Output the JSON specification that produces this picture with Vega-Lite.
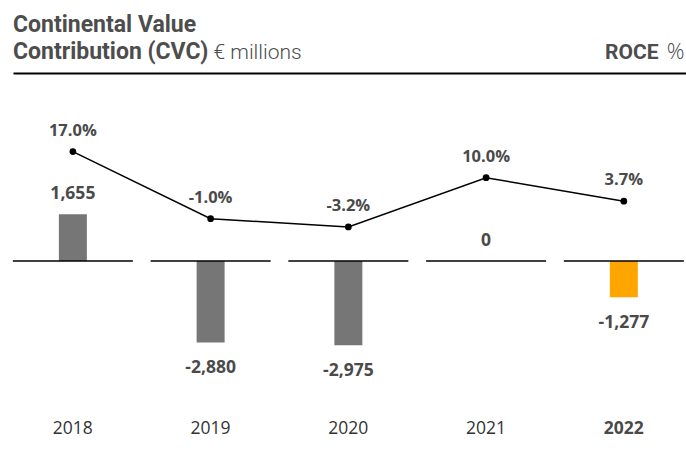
{
  "$schema": "https://vega.github.io/schema/vega-lite/v6.json",
  "width": 673,
  "height": 327,
  "autosize": {"type": "none"},
  "padding": {"left": 13, "right": 0, "top": 73, "bottom": 61},
  "background": "white",
  "config": {
    "view": {"stroke": null},
    "locale": {"number": {"decimal": ".", "thousands": ",", "grouping": [3], "currency": ["", ""], "minus": "-", "percent": "%"}},
    "text": {"font": "Open Sans"}
  },
  "title": {
    "text": ["Continental Value", "Contribution (CVC)"],
    "anchor": "start",
    "frame": "group",
    "font": "Roboto",
    "fontSize": 23,
    "fontWeight": "bold",
    "color": "#4d4d4d",
    "lineHeight": 27,
    "baseline": "alphabetic",
    "offset": -42
  },
  "datasets": {
    "cvc": [
      {"year": "2018", "cvc": 1655, "roce": 0.17},
      {"year": "2019", "cvc": -2880, "roce": -0.010},
      {"year": "2020", "cvc": -2975, "roce": -0.032},
      {"year": "2021", "cvc": 0, "roce": 0.100},
      {"year": "2022", "cvc": -1277, "roce": 0.037}
    ]
  },
  "data": {"name": "cvc"},
  "resolve": {"scale": {"y": "independent"}, "axis": {"x": "independent", "y": "independent"}},
  "layer": [
    {
      "encoding": {
        "x": {
          "field": "year",
          "type": "nominal",
          "sort": null,
          "scale": {"type": "band", "paddingInner": 0.1307, "paddingOuter": 0.0083, "align": 0},
          "axis": {
            "orient": "bottom",
            "title": null,
            "domain": false,
            "ticks": false,
            "grid": false,
            "labelAngle": 0,
            "labelPadding": 19.5,
            "labelFont": "Open Sans",
            "labelFontSize": 17.5,
            "labelColor": {"condition": {"test": "datum.value == '2022'", "value": "#4a4a4a"}, "value": "#333333"},
            "labelFontWeight": {"condition": {"test": "datum.value == '2022'", "value": "bold"}, "value": "normal"}
          }
        },
        "y": {
          "field": "cvc",
          "type": "quantitative",
          "scale": {"domain": [-4912, 6643], "nice": false, "zero": false},
          "axis": {
            "orient": "left",
            "title": "€ millions",
            "titleAngle": 0,
            "titleAlign": "left",
            "titleBaseline": "alphabetic",
            "titleX": 200,
            "titleY": -15,
            "titleFont": "Roboto",
            "titleFontSize": 21,
            "titleFontWeight": 300,
            "titleColor": "#4d4d4d",
            "domain": false,
            "ticks": false,
            "labels": false,
            "grid": false
          }
        }
      },
      "layer": [
        {
          "mark": {"type": "bar", "width": 28},
          "encoding": {
            "color": {"condition": {"test": "datum.year == '2022'", "value": "#FFA500"}, "value": "#767676"}
          }
        },
        {
          "mark": {"type": "tick", "size": 120, "thickness": 1.5, "color": "black", "opacity": 1},
          "encoding": {
            "y": {"datum": 0, "type": "quantitative"}
          }
        },
        {
          "transform": [{"filter": "datum.cvc >= 0"}],
          "mark": {"type": "text", "baseline": "alphabetic", "dy": -15, "fontSize": 17.5, "fontWeight": "bold", "color": "#4a4a4a"},
          "encoding": {
            "text": {"field": "cvc", "type": "quantitative", "format": ",.0f"}
          }
        },
        {
          "transform": [{"filter": "datum.cvc < 0"}],
          "mark": {"type": "text", "baseline": "top", "dy": 16.5, "fontSize": 17.5, "fontWeight": "bold", "color": "#4a4a4a"},
          "encoding": {
            "text": {"field": "cvc", "type": "quantitative", "format": ",.0f"}
          }
        }
      ]
    },
    {
      "encoding": {
        "x": {
          "field": "year",
          "type": "nominal",
          "sort": null,
          "axis": {
            "orient": "top",
            "labels": false,
            "ticks": false,
            "grid": false,
            "domain": true,
            "domainColor": "black",
            "domainWidth": 2.2,
            "title": "ROCE",
            "titleAnchor": "start",
            "titleAlign": "right",
            "titleBaseline": "alphabetic",
            "titleX": 645,
            "titleY": -15,
            "titleFont": "Roboto",
            "titleFontSize": 21,
            "titleFontWeight": "bold",
            "titleColor": "#4d4d4d"
          }
        },
        "y": {
          "field": "roce",
          "type": "quantitative",
          "scale": {"domain": [-0.496, 0.3807], "nice": false, "zero": false},
          "axis": {
            "orient": "right",
            "title": "%",
            "titleAngle": 0,
            "titleAlign": "right",
            "titleBaseline": "alphabetic",
            "titleX": -2,
            "titleY": -15,
            "titleFont": "Open Sans",
            "titleFontSize": 22,
            "titleFontWeight": 300,
            "titleColor": "#4d4d4d",
            "domain": false,
            "ticks": false,
            "labels": false,
            "grid": false
          }
        }
      },
      "layer": [
        {
          "mark": {"type": "line", "color": "black", "strokeWidth": 1.5}
        },
        {
          "mark": {"type": "point", "filled": true, "size": 45, "color": "black", "opacity": 1}
        },
        {
          "mark": {"type": "text", "baseline": "alphabetic", "dy": -16, "fontSize": 16.5, "fontWeight": "bold", "color": "#4a4a4a"},
          "encoding": {
            "text": {"field": "roce", "type": "quantitative", "format": ".1%"}
          }
        }
      ]
    }
  ]
}
